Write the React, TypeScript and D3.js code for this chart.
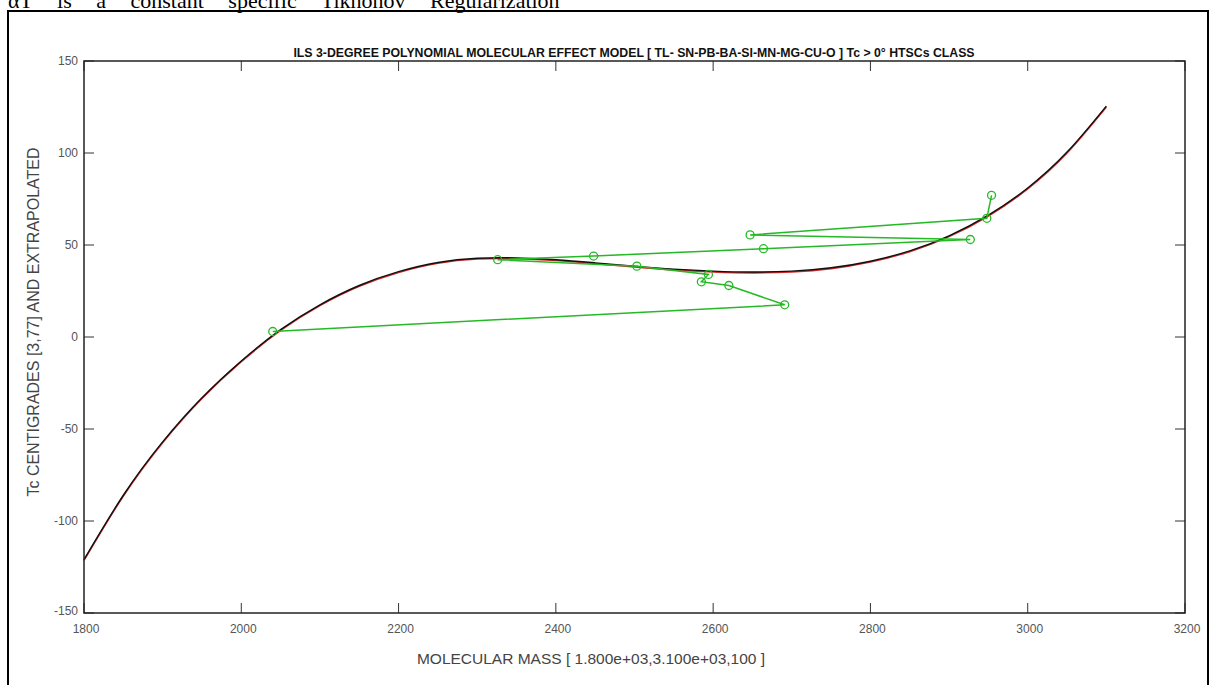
import React, { useEffect, useRef } from 'react';
import * as d3 from 'd3';

// fitted polynomial curve, every 50 units of mass
const curveMass = [1800, 1850, 1900, 1950, 2000, 2050, 2100, 2150, 2200, 2250, 2300, 2350, 2400, 2450,
    2500, 2550, 2600, 2650, 2700, 2750, 2800, 2850, 2900, 2950, 3000, 3050, 3100];
const curveTc = [-121, -86, -57, -33, -13, 4, 17.5, 28, 35.5, 40.5, 42.8, 43, 42, 40.3,
    38.5, 36.9, 35.8, 35.3, 35.8, 37.6, 41.2, 46.8, 55, 66.2, 81, 100.5, 125.5];

// measured compounds, joined in order of rising Tc
const pointMass = [2040, 2691, 2620, 2585, 2594, 2503, 2326, 2448, 2664, 2927, 2647, 2948, 2954];
const pointTc = [3, 17.5, 28, 30, 34, 38.5, 42, 44, 48, 53, 55.5, 64.5, 77];

const xTicks = [1800, 2000, 2200, 2400, 2600, 2800, 3000, 3200];
const yTicks = [-150, -100, -50, 0, 50, 100, 150];

const title = 'ILS 3-DEGREE POLYNOMIAL MOLECULAR EFFECT MODEL [ TL- SN-PB-BA-SI-MN-MG-CU-O ] Tc > 0\u00b0 HTSCs CLASS';
const xLabel = 'MOLECULAR MASS [ 1.800e+03,3.100e+03,100 ]';
const yLabel = 'Tc CENTIGRADES [3,77] AND EXTRAPOLATED';
const topLine = '\u03b1T is a constant specific Tikhonov Regularization';

const width = 1215;
const height = 685;
const plot = { left: 84, right: 1185, top: 61, bottom: 613 };
const font = '"Liberation Sans", Arial, sans-serif';

export default function App() {
    const ref = useRef<SVGSVGElement | null>(null);

    useEffect(() => {
        const svg = d3.select(ref.current);
        svg.selectAll('*').remove();

        const x = d3.scaleLinear().domain([1800, 3200]).range([plot.left, plot.right]);
        const y = d3.scaleLinear().domain([-150, 150]).range([plot.bottom, plot.top]);

        svg.append('rect').attr('width', width).attr('height', height).attr('fill', '#fff');

        // text cut at the top of the page, as in the source document
        svg.append('text')
            .attr('x', 8).attr('y', 8)
            .attr('font-family', '"Liberation Serif", "Times New Roman", serif')
            .attr('font-size', 22)
            .attr('word-spacing', 19)
            .text(topLine);

        // outer frame
        svg.append('rect')
            .attr('x', 8).attr('y', 11).attr('width', 1200).attr('height', 700)
            .attr('fill', 'none').attr('stroke', '#000').attr('stroke-width', 2);

        // ticks on all four sides, pointing inwards
        const ticks = svg.append('g').attr('stroke', '#333').attr('stroke-width', 1);
        xTicks.forEach((t) => {
            ticks.append('line').attr('x1', x(t)).attr('x2', x(t)).attr('y1', plot.bottom).attr('y2', plot.bottom - 10);
            ticks.append('line').attr('x1', x(t)).attr('x2', x(t)).attr('y1', plot.top).attr('y2', plot.top + 10);
        });
        yTicks.forEach((t) => {
            ticks.append('line').attr('x1', plot.left).attr('x2', plot.left + 10).attr('y1', y(t)).attr('y2', y(t));
            ticks.append('line').attr('x1', plot.right).attr('x2', plot.right - 10).attr('y1', y(t)).attr('y2', y(t));
        });

        svg.append('g')
            .selectAll('text')
            .data(xTicks)
            .enter()
            .append('text')
            .attr('x', (d) => x(d) + 2)
            .attr('y', plot.bottom + 20)
            .attr('text-anchor', 'middle')
            .attr('font-family', font)
            .attr('font-size', 12)
            .attr('fill', '#555')
            .text((d) => d);

        svg.append('g')
            .selectAll('text')
            .data(yTicks)
            .enter()
            .append('text')
            .attr('x', plot.left - 6)
            .attr('y', (d) => y(d) + 4 - (d === -150 ? 2 : 0))
            .attr('text-anchor', 'end')
            .attr('font-family', font)
            .attr('font-size', 12)
            .attr('fill', '#555')
            .text((d) => d);

        const line = d3.line<number>()
            .x((_, i) => x(curveMass[i]))
            .y((d) => y(d))
            .curve(d3.curveNatural);

        // red fit sits just under the black one
        svg.append('path')
            .attr('d', line(curveTc))
            .attr('transform', 'translate(0,0.8)')
            .attr('fill', 'none')
            .attr('stroke', '#d42a2a')
            .attr('stroke-width', 1.6);

        svg.append('path')
            .attr('d', line(curveTc))
            .attr('fill', 'none')
            .attr('stroke', '#111')
            .attr('stroke-width', 1.4);

        const green = '#25b925';
        const dataLine = d3.line<number>()
            .x((_, i) => x(pointMass[i]))
            .y((d) => y(d));

        svg.append('path')
            .attr('d', dataLine(pointTc))
            .attr('fill', 'none')
            .attr('stroke', green)
            .attr('stroke-width', 1.5);

        svg.append('g')
            .selectAll('circle')
            .data(pointTc)
            .enter()
            .append('circle')
            .attr('cx', (_, i) => x(pointMass[i]))
            .attr('cy', (d) => y(d))
            .attr('r', 4)
            .attr('fill', 'none')
            .attr('stroke', green)
            .attr('stroke-width', 1.3);

        // axes box
        svg.append('rect')
            .attr('x', plot.left).attr('y', plot.top)
            .attr('width', plot.right - plot.left).attr('height', plot.bottom - plot.top)
            .attr('fill', 'none').attr('stroke', '#222').attr('stroke-width', 1.5);

        svg.append('text')
            .attr('x', 634).attr('y', 57)
            .attr('text-anchor', 'middle')
            .attr('font-family', font)
            .attr('font-weight', 'bold')
            .attr('font-size', 12.3)
            .attr('fill', '#111')
            .text(title);

        svg.append('text')
            .attr('x', 591).attr('y', 664)
            .attr('text-anchor', 'middle')
            .attr('font-family', font)
            .attr('font-size', 15.5)
            .attr('fill', '#444')
            .text(xLabel);

        svg.append('text')
            .attr('transform', 'translate(39,322) rotate(-90)')
            .attr('text-anchor', 'middle')
            .attr('font-family', font)
            .attr('font-size', 16)
            .attr('fill', '#444')
            .text(yLabel);
    }, []);

    return (
        <svg
            ref={ref}
            width={width}
            height={height}
            style={{ position: 'absolute', left: 0, top: 0, overflow: 'hidden' }}
        />
    );
}
